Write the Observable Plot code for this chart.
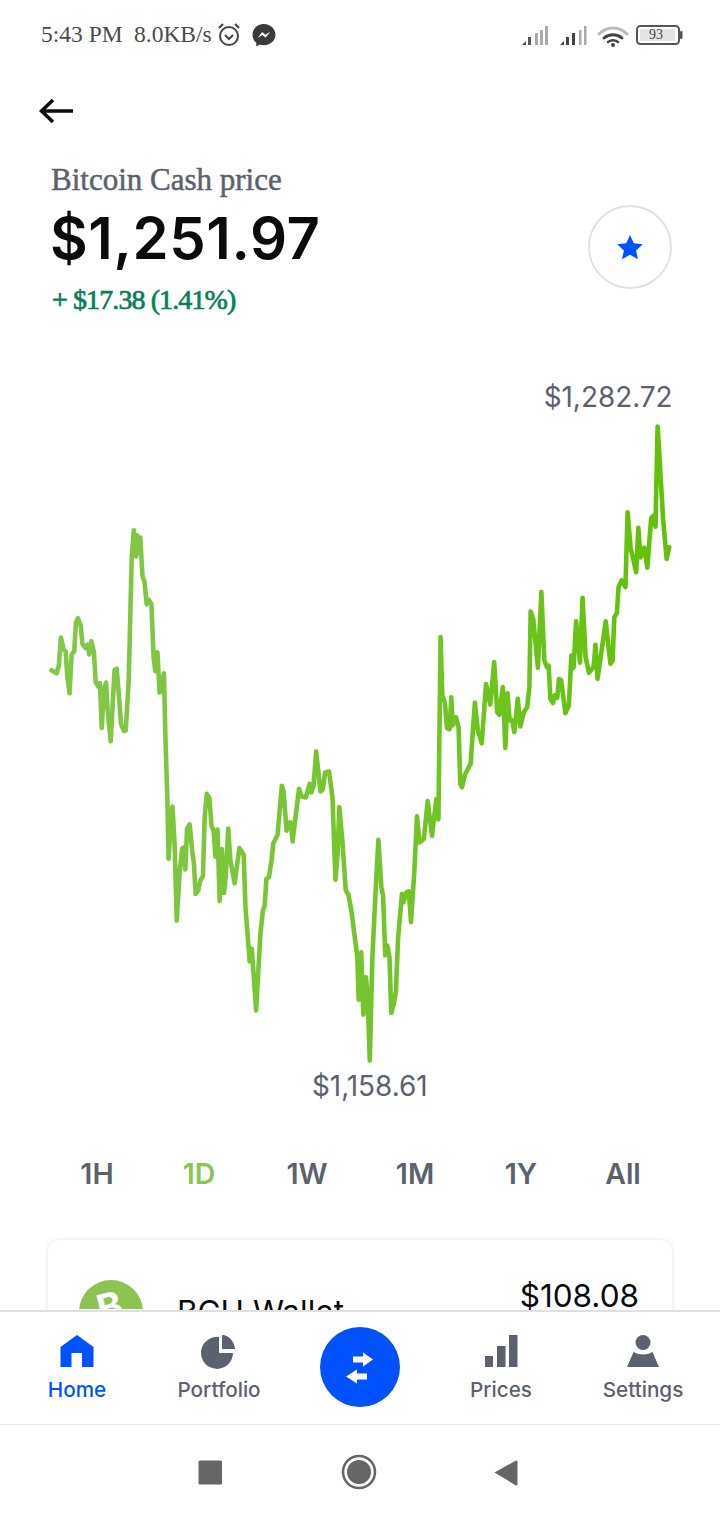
<!DOCTYPE html>
<html><head><meta charset="utf-8">
<script src="https://cdn.jsdelivr.net/npm/d3@7"></script>
<script src="https://cdn.jsdelivr.net/npm/@observablehq/plot@0.6"></script>
<style>
html,body{margin:0;padding:0;background:#fff}
#page{position:relative;width:720px;height:1520px;overflow:hidden;background:#fff;font-family:Inter,sans-serif}
#page>*{position:absolute}
.t{white-space:nowrap;line-height:1}
.tab{top:1160px;width:80px;margin-left:-40px;text-align:center;font-size:28.5px;font-weight:600;color:#5b616e;line-height:28px}
.nav{top:1379px;width:120px;margin-left:-60px;text-align:center;font-size:20.7px;font-weight:500;color:#5b616e;line-height:22px}
.status{font-family:"Liberation Serif",serif;font-size:23.5px;color:#4a4a4a;top:23px}
#deco{left:0;top:0;z-index:3;pointer-events:none}
#navbg{left:0;top:1310px;width:720px;height:210px;background:#fff;z-index:2;border-top:2px solid #dedfe0;box-sizing:border-box}
#navline{left:0;top:1424px;width:720px;height:1px;background:#e6e6e6;z-index:3}
#card{left:48px;top:1240px;width:624px;height:120px;border-radius:12px;background:#fff;box-shadow:0 0 4px rgba(0,0,0,.13)}
#chart{left:0;top:380px;z-index:1}
</style></head><body>
<div id="page">
  <div class="t status" style="left:41px">5:43 PM</div>
  <div class="t status" style="left:134px">8.0KB/s</div>
  <div class="t status" style="left:649px;top:28px;font-size:14px;color:#444;z-index:5">93</div>
  <div class="t" style="left:51px;top:164px;font-family:'Liberation Serif',serif;font-size:31px;color:#5b616e;-webkit-text-stroke:.5px #5b616e">Bitcoin Cash price</div>
  <div class="t" style="left:50px;top:209px;font-size:58px;font-weight:600;color:#0a0b0d;letter-spacing:.6px">$1,251.97</div>
  <div class="t" style="left:52px;top:286px;font-family:'Liberation Serif',serif;font-size:28px;color:#0a7d5a;-webkit-text-stroke:.7px #0a7d5a;letter-spacing:-.9px">+ $17.38 (1.41%)</div>

  <div id="chart"></div>

  <div id="tabs"></div>

  <div id="card"></div>
  <div class="t" style="left:177px;top:1296px;font-size:31.5px;color:#0a0b0d">BCH Wallet</div>
  <div class="t" style="right:81px;top:1280px;font-size:31.5px;color:#0a0b0d">$108.08</div>

  <div id="navbg"></div>
  <div id="navline"></div>
  <div id="navs" style="z-index:4;left:0;top:0"></div>

  <svg id="deco" width="720" height="1520" viewBox="0 0 720 1520">
    <defs><clipPath id="cl"><rect x="0" y="1200" width="720" height="109"/></clipPath></defs>
    <g clip-path="url(#cl)">
      <circle cx="111" cy="1312" r="32" fill="#8dc351"/>
      <text x="111" y="1320" font-size="38" font-weight="700" font-family="Inter" fill="#fff" text-anchor="middle" transform="rotate(-14 111 1312)">B</text>
    </g>
    <g fill="none" stroke="#444" stroke-width="2">
      <circle cx="229" cy="36" r="9"/><path d="M225 35l4 4 4-4"/><path d="M219 28l4-4M239 28l-4-4" stroke-width="2.2"/>
    </g>
    <path d="M264 24c-6.600 0-11.500 4.800-11.500 10.800 0 3.300 1.400 6 3.800 8v3.700l3.500-1.900c1.300.4 2.700.6 4.200.6 6.600 0 11.500-4.800 11.500-10.400S270.600 24 264 24z" fill="#3a3a3a"/>
    <path d="M257.500 38l4.800-6 3 2.800 5-3-4.800 6-3-2.800z" fill="#fff"/>
    <g fill="#aaa"><rect x="535" y="33" width="3" height="12"/><rect x="540" y="30" width="3" height="15"/><rect x="545" y="26" width="3" height="19"/></g>
    <g fill="#555"><path d="M522 45l4-4v4z"/><rect x="528" y="37" width="3" height="8" /></g>
    <g fill="#aaa"><rect x="579" y="30" width="2.500" height="15"/><rect x="584" y="26" width="2.500" height="19"/></g>
    <g fill="#444"><path d="M560 45l4-4v4z"/><rect x="566" y="37" width="3" height="8"/><rect x="572" y="33" width="3" height="12"/></g>
    <g fill="none" stroke-linecap="round"><path d="M599 34c8-8 20-8 28 0" stroke="#bbb" stroke-width="3"/><path d="M604 38c5-4.500 13-4.500 18 0" stroke="#444" stroke-width="3"/><path d="M608 42c3-2 7-2 10 0" stroke="#444" stroke-width="2.500"/></g>
    <circle cx="613" cy="45" r="2" fill="#444"/>
    <rect x="637" y="26" width="42" height="18" rx="3.500" fill="none" stroke="#555" stroke-width="2"/>
    <rect x="640" y="29" width="35" height="12" fill="#e4e4e4"/>
    <rect x="680" y="31" width="2.500" height="8" rx="1" fill="#555"/>
    <path d="M42 111H73M53 100L41.500 111L53 122" fill="none" stroke="#0a0b0d" stroke-width="3.500"/>
    <circle cx="630" cy="247" r="41" fill="#fff" stroke="#e0e1e3" stroke-width="1.800"/>
    <path d="M630 235l3.800 8.300 9 1-6.700 6.100 1.900 8.900-8-4.500-8 4.500 1.900-8.900-6.700-6.100 9-1z" fill="#0052ff"/>
    <path d="M77 1335L93.500 1347V1367H82V1353H71.500V1367H60.500V1347z" fill="#0052ff"/>
    <path d="M219 1337A16 16 0 1 0 233 1353H219z" fill="#5b616e"/>
    <path d="M222 1335A13 16 0 0 1 235 1349H222z" fill="#5b616e"/>
    <circle cx="360" cy="1367" r="40" fill="#0052ff"/>
    <path d="M353 1356.500h10v-4l10 7-10 7v-4h-10zM367 1373.500h-10v-4l-11 7 11 7v-4h10z" fill="#fff"/>
    <g fill="#5b616e"><rect x="485" y="1356" width="8" height="11"/><rect x="497" y="1346" width="8.500" height="21"/><rect x="509" y="1335" width="8.500" height="32"/></g>
    <g fill="#5b616e"><ellipse cx="643" cy="1342.500" rx="7.500" ry="7.500"/><path d="M627 1367L633.500 1352Q643 1357 652.500 1352L659 1367z"/></g>
    <rect x="198.500" y="1460.500" width="23.500" height="24" rx="1.500" fill="#666"/>
    <circle cx="359" cy="1472" r="16" fill="none" stroke="#666" stroke-width="2.500"/>
    <circle cx="359" cy="1472" r="12" fill="#666"/>
    <path d="M494.500 1472.500L516 1460.500Q517.500 1460 517.500 1462V1484Q517.500 1486 516 1485.500z" fill="#666"/>
  </svg>
</div>
<script>
// Time of each reading, minutes since the start of the 1D window
const minutes = [0,12,17,22,28,33,37,42,47,53,57,62,68,72,79,84,88,93,99,103,109,113,117,122,127,131,138,147,152,158,162,169,173,180,184,187,192,197,200,204,207,212,217,222,227,233,238,242,247,252,257,262,266,270,273,277,282,287,292,299,305,308,312,316,322,328,332,336,342,347,353,357,362,368,373,378,382,387,392,397,402,406,412,417,427,438,448,452,462,467,477,487,493,497,501,507,513,517,527,537,541,548,554,558,562,577,583,593,602,606,611,617,627,632,638,647,655,662,667,671,678,686,692,699,713,716,722,727,733,737,742,748,756,762,769,773,778,783,788,792,798,803,808,817,821,827,833,838,846,852,858,868,877,887,897,902,907,911,917,922,928,932,935,943,949,953,957,964,977,987,994,1003,1013,1023,1032,1039,1044,1052,1058,1063,1068,1074,1079,1087,1093,1101,1109,1114,1117,1123,1134,1142,1149,1155,1159,1163,1169,1173,1179,1183,1188,1198,1206,1212,1217,1223,1232,1238,1245,1253,1264,1268,1273,1292,1303,1308,1312,1318,1322,1329,1338,1343,1350,1363,1368,1373,1382,1389,1398,1404,1408,1413,1420,1426,1434,1440];
// Bitcoin Cash price in USD at each reading
const prices = [1235.0,1234.4,1235.9,1241.4,1239.1,1238.7,1233.6,1230.5,1238.1,1238.7,1244.4,1245.2,1243.8,1240.2,1239.4,1240.0,1238.1,1240.7,1238.5,1232.7,1231.8,1232.5,1223.7,1231.0,1232.6,1227.1,1221.1,1235.1,1235.3,1229.1,1224.5,1223.1,1223.2,1233.0,1246.7,1257.1,1262.4,1257.3,1261.4,1257.9,1261.0,1253.5,1252.2,1247.9,1248.8,1247.9,1237.6,1234.8,1238.5,1230.6,1231.7,1234.4,1220.7,1210.1,1198.1,1203.6,1208.3,1201.1,1186.0,1195.8,1200.2,1200.3,1196.0,1204.0,1204.8,1199.7,1197.2,1191.2,1191.9,1193.8,1194.7,1206.2,1210.8,1210.0,1204.6,1203.6,1198.5,1203.8,1189.8,1200.0,1191.4,1194.5,1204.0,1197.8,1193.3,1200.2,1198.9,1188.9,1178.0,1180.5,1168.4,1183.4,1188.0,1188.9,1194.2,1194.5,1197.8,1201.1,1202.8,1212.4,1211.3,1203.6,1205.2,1205.2,1201.5,1211.8,1210.3,1210.1,1212.8,1211.1,1212.4,1219.1,1211.3,1211.6,1215.0,1215.2,1210.1,1194.0,1199.1,1208.2,1201.7,1191.9,1191.1,1188.0,1178.8,1170.5,1179.8,1167.6,1174.9,1171.0,1158.61,1178.8,1192.5,1201.8,1192.5,1190.9,1179.2,1181.1,1178.8,1167.9,1169.7,1172.3,1182.7,1191.2,1189.6,1191.5,1191.7,1185.7,1195.8,1206.4,1201.3,1202.0,1209.4,1202.6,1209.8,1205.8,1241.5,1230.1,1228.7,1223.7,1223.5,1229.7,1224.2,1225.8,1223.8,1212.8,1212.1,1214.6,1216.7,1228.7,1223.2,1220.7,1232.3,1228.3,1236.6,1226.8,1226.3,1231.7,1219.8,1230.5,1225.2,1225.2,1222.9,1229.4,1224.0,1226.8,1227.8,1231.7,1246.5,1245.1,1235.5,1250.3,1236.9,1235.6,1235.9,1229.4,1228.6,1230.1,1229.6,1233.3,1233.1,1226.6,1228.1,1237.9,1235.5,1244.6,1236.5,1249.2,1237.6,1234.5,1235.7,1240.0,1233.3,1244.6,1236.3,1236.9,1245.4,1246.2,1251.3,1252.6,1251.3,1265.9,1259.0,1254.2,1262.9,1257.1,1259.0,1255.1,1264.8,1265.3,1263.1,1282.72,1272.8,1264.3,1256.8,1259.1];
const minLabel = "$1,158.61";
const maxLabel = "$1,282.72";
const ranges = ["1H","1D","1W","1M","1Y","All"];
const navItems = ["Home","Portfolio","Prices","Settings"];

const series = minutes.map((t,i)=>({t,p:prices[i]}));
const hi = series[d3.maxIndex(prices)];
const lo = series[d3.minIndex(prices)];

const gradient = () => {
  const defs = d3.create("svg:defs");
  const g = defs.append("linearGradient").attr("id","lineGrad").attr("x1","0").attr("x2","1").attr("y1","0").attr("y2","0");
  g.append("stop").attr("offset","0%").attr("stop-color","#84c74a");
  g.append("stop").attr("offset","55%").attr("stop-color","#74c42c");
  g.append("stop").attr("offset","100%").attr("stop-color","#64c00a");
  return defs.node();
};

const chart = Plot.plot({
  width:720, height:730,
  marginLeft:51, marginRight:51.3, marginTop:46, marginBottom:50,
  x:{domain:[0,1440],axis:null},
  y:{domain:[1158.61,1282.72],axis:null},
  style:{background:"transparent",overflow:"visible"},
  marks:[
    gradient,
    Plot.line(series,{x:"t",y:"p",stroke:"url(#lineGrad)",strokeWidth:4.6,strokeLinejoin:"round",strokeLinecap:"round",curve:"linear"}),
    Plot.text([hi],{x:"t",y:"p",text:()=>maxLabel,dx:15,dy:-28,textAnchor:"end",fontSize:27.9,fill:"#5b616e",fontFamily:"Inter"}),
    Plot.text([lo],{x:"t",y:"p",text:()=>minLabel,dy:27,textAnchor:"middle",fontSize:27.9,fill:"#5b616e",fontFamily:"Inter"})
  ]
});
document.getElementById("chart").append(chart);

const tabX = [97,199,307,415,521,623];
const tabs = document.getElementById("tabs");
ranges.forEach((r,i)=>{
  const d=document.createElement("div");d.className="tab";d.textContent=r;
  d.style.position="absolute";d.style.left=tabX[i]+"px";
  if(r==="1D")d.style.color="#8dc351";
  tabs.append(d);
});
const navX=[77,219,501,643];
const navs=document.getElementById("navs");
navItems.forEach((r,i)=>{
  const d=document.createElement("div");d.className="nav";d.textContent=r;
  d.style.position="absolute";d.style.left=navX[i]+"px";
  if(r==="Home")d.style.color="#0052ff";
  navs.append(d);
});
</script>
</body></html>
